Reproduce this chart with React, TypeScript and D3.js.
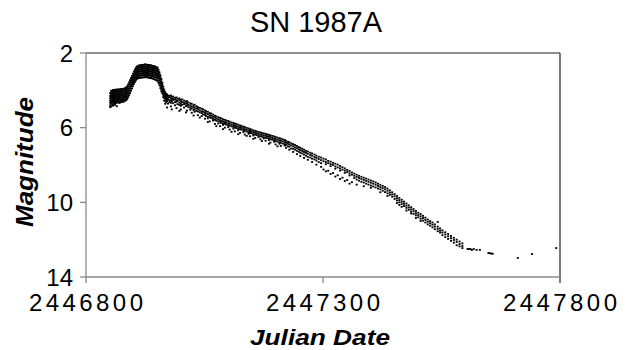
import React from "react";
import * as d3 from "d3";

const JD0 = 2446800;

// Observations: [day offset from JD 2446800, magnitude, magnitude, ...]
const plateauObs: number[][] = [
  [51, 4.15, 4.3, 4.42, 4.55, 4.66, 4.8, 4.9],
  [53, 4.02, 4.12, 4.22, 4.35, 4.47, 4.58, 4.7, 4.86],
  [55, 4.06, 4.18, 4.28, 4.38, 4.5, 4.62, 4.75],
  [57, 3.98, 4.1, 4.2, 4.32, 4.44, 4.55, 4.66, 4.82],
  [59, 4.04, 4.14, 4.26, 4.37, 4.48, 4.6, 4.72],
  [61, 3.97, 4.08, 4.2, 4.3, 4.41, 4.52, 4.64, 4.78],
  [63, 4.0, 4.12, 4.23, 4.34, 4.45, 4.57, 4.68],
  [65, 3.95, 4.06, 4.17, 4.28, 4.4, 4.51, 4.62, 4.85],
  [67, 4.0, 4.1, 4.22, 4.33, 4.44, 4.55, 4.66],
  [69, 3.94, 4.05, 4.16, 4.27, 4.38, 4.5, 4.61],
  [71, 3.98, 4.09, 4.2, 4.31, 4.42, 4.54, 4.68],
  [73, 3.93, 4.04, 4.15, 4.26, 4.37, 4.48, 4.6],
  [75, 3.96, 4.07, 4.18, 4.29, 4.4, 4.52, 4.63],
  [77, 3.92, 4.03, 4.14, 4.25, 4.36, 4.47, 4.58],
  [79, 3.95, 4.06, 4.17, 4.28, 4.39, 4.5, 4.62],
  [81, 3.9, 4.01, 4.12, 4.23, 4.34, 4.45, 4.56],
  [83, 3.88, 3.99, 4.1, 4.21, 4.32, 4.43, 4.55],
  [85, 3.84, 3.95, 4.06, 4.17, 4.28, 4.39, 4.52],
];

const riseObs: number[][] = [
  [87, 3.78, 3.89, 4.0, 4.11, 4.22, 4.33, 4.46],
  [89, 3.68, 3.79, 3.9, 4.01, 4.12, 4.23, 4.36],
  [91, 3.57, 3.68, 3.79, 3.9, 4.01, 4.13, 4.26],
  [93, 3.46, 3.57, 3.68, 3.79, 3.9, 4.02, 4.15],
  [95, 3.34, 3.45, 3.56, 3.67, 3.78, 3.9, 4.02],
  [97, 3.23, 3.34, 3.45, 3.56, 3.67, 3.78, 3.9],
  [99, 3.11, 3.22, 3.33, 3.44, 3.55, 3.66, 3.78],
  [101, 3.0, 3.11, 3.22, 3.33, 3.44, 3.55, 3.66],
  [103, 2.9, 3.01, 3.12, 3.23, 3.34, 3.45, 3.56],
  [105, 2.81, 2.92, 3.03, 3.14, 3.25, 3.36, 3.48],
  [107, 2.74, 2.85, 2.96, 3.07, 3.18, 3.29, 3.4],
];

const peakObs: number[][] = [
  [109, 2.7, 2.8, 2.91, 3.02, 3.13, 3.25, 3.36],
  [111, 2.68, 2.78, 2.89, 3.0, 3.11, 3.22, 3.33],
  [113, 2.66, 2.77, 2.88, 2.99, 3.1, 3.21, 3.34],
  [115, 2.66, 2.76, 2.87, 2.98, 3.09, 3.2, 3.31],
  [117, 2.64, 2.75, 2.86, 2.97, 3.08, 3.19, 3.32],
  [119, 2.65, 2.76, 2.87, 2.98, 3.09, 3.2, 3.3],
  [121, 2.63, 2.74, 2.85, 2.96, 3.07, 3.18, 3.31],
  [123, 2.64, 2.75, 2.86, 2.97, 3.08, 3.19, 3.3],
  [125, 2.6, 2.72, 2.83, 2.94, 3.05, 3.16, 3.28],
  [127, 2.63, 2.74, 2.85, 2.96, 3.07, 3.18, 3.3],
  [129, 2.63, 2.74, 2.85, 2.96, 3.07, 3.18, 3.29],
  [131, 2.64, 2.75, 2.86, 2.97, 3.08, 3.19, 3.32],
  [133, 2.65, 2.76, 2.87, 2.98, 3.09, 3.2, 3.31],
  [135, 2.66, 2.77, 2.88, 2.99, 3.1, 3.21, 3.34],
  [137, 2.66, 2.77, 2.88, 2.99, 3.1, 3.21, 3.32],
  [139, 2.68, 2.79, 2.9, 3.01, 3.12, 3.23, 3.36],
  [141, 2.69, 2.8, 2.91, 3.02, 3.13, 3.24, 3.36],
  [143, 2.7, 2.81, 2.92, 3.03, 3.14, 3.26, 3.4],
  [145, 2.72, 2.83, 2.94, 3.05, 3.16, 3.28, 3.41],
  [147, 2.74, 2.85, 2.96, 3.07, 3.18, 3.3, 3.44],
  [149, 2.76, 2.87, 2.98, 3.09, 3.2, 3.32, 3.46],
];

const declineObs: number[][] = [
  [151, 2.8, 2.91, 3.02, 3.13, 3.24, 3.36, 3.5],
  [153, 2.9, 3.01, 3.12, 3.23, 3.34, 3.46, 3.6],
  [155, 3.04, 3.15, 3.26, 3.37, 3.48, 3.6, 3.72],
  [157, 3.2, 3.31, 3.42, 3.53, 3.64, 3.76, 3.88],
  [159, 3.4, 3.51, 3.62, 3.73, 3.84, 3.96, 4.06],
  [161, 3.6, 3.71, 3.82, 3.93, 4.04, 4.16],
  [163, 3.8, 3.91, 4.02, 4.13, 4.24, 4.36],
  [165, 3.97, 4.08, 4.19, 4.3, 4.41, 4.55],
  [167, 4.1, 4.21, 4.32, 4.43, 4.55, 4.72],
  [169, 4.18, 4.29, 4.4, 4.51, 4.64],
  [171, 4.22, 4.31, 4.44, 4.58, 4.92],
  [173, 4.28, 4.4, 4.49, 4.71],
  [176, 4.3, 4.36, 4.52, 4.63],
  [179, 4.27, 4.41, 4.55, 4.67, 4.86],
  [181, 4.35, 4.46, 4.6, 5.02],
  [184, 4.33, 4.44, 4.52, 4.69],
  [188, 4.4, 4.49, 4.63, 4.8],
  [191, 4.38, 4.53, 4.61, 4.95],
  [193, 4.45, 4.57, 4.74],
  [197, 4.43, 4.52, 4.66, 4.78, 5.1],
  [200, 4.5, 4.6, 4.72, 4.83, 5.02],
  [203, 4.49, 4.63, 4.77],
  [207, 4.55, 4.66, 4.74, 4.92],
  [211, 4.6, 4.71, 4.84, 5.18],
  [213, 4.58, 4.69, 4.81, 5.08],
  [216, 4.65, 4.78, 4.9],
  [220, 4.7, 4.81, 4.93, 5.04],
  [223, 4.72, 4.86, 4.97, 5.2],
  [227, 4.8, 4.9, 5.05, 5.35],
  [229, 4.77, 4.93, 5.02, 5.15],
  [233, 4.85, 4.97, 5.1],
  [236, 4.9, 5.0, 5.13, 5.33],
  [240, 4.94, 5.07, 5.18, 5.46],
  [244, 4.98, 5.12, 5.22, 5.38],
  [247, 5.02, 5.15, 5.29],
  [251, 5.08, 5.2, 5.31, 5.52],
  [253, 5.12, 5.24, 5.37],
  [257, 5.15, 5.27, 5.41, 5.5, 5.7],
  [261, 5.22, 5.33, 5.44, 5.66],
  [264, 5.24, 5.36, 5.48],
  [268, 5.3, 5.42, 5.53, 5.62],
  [272, 5.36, 5.46, 5.58, 5.8],
  [275, 5.4, 5.52, 5.63, 5.92],
  [279, 5.44, 5.55, 5.66, 5.78],
  [283, 5.48, 5.6, 5.71, 5.92],
  [285, 5.5, 5.63, 5.74],
  [289, 5.55, 5.66, 5.77, 5.85, 6.08],
  [293, 5.58, 5.7, 5.8, 6.0],
  [296, 5.62, 5.73, 5.84],
  [300, 5.64, 5.76, 5.86, 5.97],
  [303, 5.68, 5.79, 5.9, 6.1],
  [307, 5.72, 5.83, 5.93, 6.22],
  [311, 5.75, 5.86, 5.96, 6.05],
  [314, 5.78, 5.89, 5.99, 6.2],
  [317, 5.8, 5.92, 6.02],
  [321, 5.84, 5.95, 6.05, 6.14, 6.35],
  [325, 5.88, 5.98, 6.08, 6.28],
  [328, 5.91, 6.01, 6.11],
  [332, 5.94, 6.04, 6.14, 6.24],
  [335, 5.97, 6.08, 6.18, 6.37],
  [339, 6.01, 6.11, 6.21, 6.44],
  [343, 6.04, 6.15, 6.25, 6.33],
  [346, 6.08, 6.18, 6.28, 6.46],
  [349, 6.1, 6.2, 6.3],
  [353, 6.14, 6.24, 6.34, 6.42, 6.6],
  [357, 6.17, 6.27, 6.37, 6.55],
  [360, 6.2, 6.3, 6.4],
  [364, 6.23, 6.33, 6.43, 6.5],
  [368, 6.25, 6.36, 6.46, 6.62],
  [371, 6.28, 6.38, 6.48, 6.72],
  [375, 6.3, 6.41, 6.51, 6.58],
  [379, 6.33, 6.43, 6.54, 6.7],
  [382, 6.36, 6.46, 6.56],
  [386, 6.38, 6.48, 6.59, 6.66, 6.86],
  [389, 6.41, 6.51, 6.62, 6.8],
  [393, 6.44, 6.55, 6.65],
  [397, 6.47, 6.58, 6.68, 6.76],
  [400, 6.5, 6.61, 6.72, 6.9],
  [404, 6.53, 6.64, 6.75, 7.0],
  [408, 6.56, 6.67, 6.78, 6.86],
  [411, 6.59, 6.7, 6.81, 6.98],
  [415, 6.62, 6.73, 6.85],
  [419, 6.66, 6.77, 6.88, 6.96],
];

const nebularObs: number[][] = [
  [422, 6.7, 6.81, 6.93, 7.08],
  [426, 6.76, 6.86, 7.0],
  [429, 6.78, 6.9, 7.02, 7.18],
  [433, 6.84, 6.95, 7.12],
  [437, 6.88, 7.0, 7.13, 7.3],
  [441, 6.93, 7.06, 7.18],
  [445, 6.98, 7.1, 7.24, 7.42],
  [449, 7.04, 7.16, 7.29],
  [452, 7.08, 7.2, 7.34, 7.52],
  [456, 7.13, 7.25, 7.38],
  [460, 7.18, 7.3, 7.44, 7.62],
  [464, 7.24, 7.35, 7.5],
  [468, 7.28, 7.4, 7.56, 7.72],
  [473, 7.34, 7.46, 7.6],
  [477, 7.38, 7.5, 7.66, 7.84],
  [482, 7.44, 7.57, 7.7],
  [486, 7.5, 7.62, 7.76, 7.98],
  [491, 7.56, 7.68, 7.84],
  [496, 7.6, 7.74, 7.9, 8.1],
  [501, 7.66, 7.8, 8.24],
  [506, 7.7, 7.84, 7.96, 8.34],
  [511, 7.78, 7.9, 8.31],
  [516, 7.82, 7.95, 8.06, 8.48],
  [521, 7.88, 8.0, 8.43],
  [526, 7.93, 8.08, 8.2, 8.62],
  [531, 7.98, 8.13, 8.55],
  [536, 8.05, 8.18, 8.3, 8.75],
  [541, 8.12, 8.25, 8.68],
  [546, 8.18, 8.3, 8.42, 8.86],
  [551, 8.26, 8.38, 8.8],
  [556, 8.32, 8.45, 8.56, 9.0],
  [561, 8.4, 8.52, 8.92],
  [566, 8.46, 8.58, 8.7],
  [571, 8.52, 8.64, 8.78, 9.05],
  [576, 8.58, 8.7, 8.84],
  [581, 8.63, 8.75, 8.9],
  [586, 8.68, 8.8, 8.94, 9.14],
  [591, 8.73, 8.85, 9.0],
  [596, 8.78, 8.9, 9.05],
  [601, 8.83, 8.95, 9.1, 9.22],
  [606, 8.88, 9.0, 9.15],
  [611, 8.93, 9.05, 9.2],
  [616, 9.0, 9.12, 9.26],
  [621, 9.06, 9.18, 9.3, 9.46],
  [626, 9.12, 9.24, 9.38],
  [631, 9.18, 9.3, 9.45],
  [636, 9.26, 9.38, 9.52, 9.66],
  [641, 9.36, 9.48, 9.6],
  [646, 9.46, 9.58, 9.7],
  [651, 9.56, 9.68, 9.82],
  [656, 9.66, 9.78, 9.9, 10.04],
  [661, 9.76, 9.88, 10.0, 10.14],
];

const tailObs: number[][] = [
  [666, 9.86, 9.98, 10.1, 10.24],
  [671, 9.96, 10.08, 10.2],
  [676, 10.06, 10.18, 10.3, 10.44],
  [681, 10.16, 10.28, 10.4],
  [686, 10.26, 10.38, 10.5, 10.6],
  [691, 10.36, 10.48, 10.62],
  [696, 10.46, 10.58, 10.7, 10.84],
  [701, 10.56, 10.68, 10.8],
  [706, 10.63, 10.75, 10.88, 11.0],
  [711, 10.72, 10.84, 10.98],
  [716, 10.82, 10.94, 11.08],
  [721, 10.92, 11.04, 11.18],
  [726, 11.0, 11.12, 11.25],
  [731, 11.08, 11.2, 11.34],
  [736, 11.18, 11.3, 11.44],
  [742, 11.05, 11.3, 11.42, 11.55],
  [747, 11.4, 11.52, 11.62],
  [752, 11.5, 11.62, 11.76],
  [758, 11.6, 11.72, 11.86],
  [764, 11.7, 11.82, 11.96],
  [770, 11.8, 11.92, 12.06],
  [776, 11.9, 12.02, 12.16],
  [782, 12.0, 12.12, 12.3],
  [788, 12.1, 12.24, 12.36],
  [794, 12.2, 12.34, 12.45],
  [805, 12.5],
  [808, 12.5],
  [811, 12.5],
  [814, 12.55],
  [818, 12.5],
  [824, 12.55],
  [831, 12.55],
  [849, 12.72],
  [852, 12.72],
  [855, 12.75],
  [858, 12.75],
  [911, 12.98],
  [941, 12.77],
  [992, 12.45],
];

const xTicks = [2446800, 2447300, 2447800];
const yTicks = [2, 6, 10, 14];

const W = 626;
const H = 350;
const M = { left: 86, right: 560, top: 53, bottom: 277 };

const flatten = (rows: number[][]) =>
  rows.flatMap(([d, ...mags]) => mags.map((m) => ({ jd: JD0 + d, mag: m })));

export default function App() {
  const x = d3.scaleLinear().domain([2446800, 2447800]).range([M.left, M.right]);
  const y = d3.scaleLinear().domain([2, 14]).range([M.top, M.bottom]);
  const points = [
    ...flatten(plateauObs),
    ...flatten(riseObs),
    ...flatten(peakObs),
    ...flatten(declineObs),
    ...flatten(nebularObs),
    ...flatten(tailObs),
  ];
  const font = "'Liberation Sans', Arial, Helvetica, sans-serif";
  const gray = "#8a8a8a";
  return (
    <svg
      width={W}
      height={H}
      style={{ position: "absolute", left: 0, top: 0, background: "#fff" }}
      fontFamily={font}
    >
      <rect x={0} y={0} width={W} height={H} fill="#fff" />
      <line x1={M.left} x2={M.right} y1={M.top} y2={M.top} stroke="#222" strokeWidth={1.2} />
      <line x1={M.right} x2={M.right} y1={M.top} y2={M.bottom + 6} stroke="#222" strokeWidth={1.2} />
      <line x1={M.left} x2={M.left} y1={M.top} y2={M.bottom + 6} stroke={gray} strokeWidth={1.3} />
      <line x1={M.left} x2={M.right} y1={M.bottom} y2={M.bottom} stroke={gray} strokeWidth={1.3} />
      {yTicks.map((t) => (
        <g key={"y" + t}>
          <line x1={M.left - 6} x2={M.left} y1={y(t)} y2={y(t)} stroke={gray} strokeWidth={1.3} />
          <text x={73} y={y(t) + 8.5} fontSize={24} textAnchor="end" fill="#000">
            {t}
          </text>
        </g>
      ))}
      {xTicks.map((t) => (
        <g key={"x" + t}>
          {t !== 2447800 && t !== 2446800 && (
            <line x1={x(t)} x2={x(t)} y1={M.bottom} y2={M.bottom + 6} stroke={gray} strokeWidth={1.3} />
          )}
          <text
            x={x(t)}
            y={311}
            fontSize={24}
            textAnchor="middle"
            textLength={114}
            lengthAdjust="spacing"
            fill="#000"
          >
            {t}
          </text>
        </g>
      ))}
      {points.map((p, i) => (
        <rect key={i} x={x(p.jd) - 1} y={y(p.mag) - 0.9} width={2} height={1.8} fill="#000" />
      ))}
      <text x={316} y={32} fontSize={29} textAnchor="middle" fill="#000">
        SN 1987A
      </text>
      <text
        x={320}
        y={345}
        fontSize={22}
        fontWeight="bold"
        fontStyle="italic"
        textAnchor="middle"
        textLength={140}
        lengthAdjust="spacingAndGlyphs"
        fill="#000"
      >
        Julian Date
      </text>
      <text
        transform="translate(33,162) rotate(-90)"
        fontSize={23}
        fontWeight="bold"
        fontStyle="italic"
        textAnchor="middle"
        textLength={130}
        lengthAdjust="spacingAndGlyphs"
        fill="#000"
      >
        Magnitude
      </text>
    </svg>
  );
}
